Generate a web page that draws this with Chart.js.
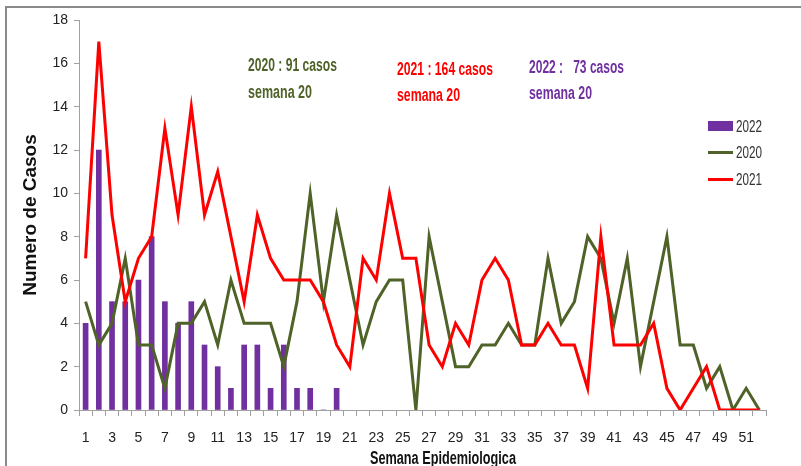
<!DOCTYPE html>
<html>
<head>
<meta charset="utf-8">
<script src="https://cdn.jsdelivr.net/npm/chart.js@4/dist/chart.umd.min.js"></script>
<style>
  html, body { margin: 0; padding: 0; background: #fff; }
  #wrap { position: relative; width: 801px; height: 466px; overflow: hidden; }
  #frame { position: absolute; left: 5px; top: 6px; width: 800px; height: 470px;
           border-top: 2px solid #8a8a8a; border-left: 2px solid #8a8a8a; box-sizing: border-box; }
  canvas { position: absolute; left: 0; top: 0; }
  .t { position: absolute; font-family: 'Liberation Sans', Arial, sans-serif; white-space: pre;
       line-height: 20px; height: 20px; transform-origin: 0 50%; }
  .ann { font-weight: bold; font-size: 16px; }
  .leg { font-size: 13px; color: #333; }
  .sw { position: absolute; }
</style>
</head>
<body>
<div id="wrap">
  <canvas id="c" width="801" height="466"></canvas>
  <div id="frame"></div>
  <span class="t ann" data-w="89" data-sy="1.13" style="left:248px;top:55px;color:#4f6228;">2020 : 91 casos</span>
  <span class="t ann" data-w="64" data-sy="1.13" style="left:248px;top:82px;color:#4f6228;">semana 20</span>
  <span class="t ann" data-w="96" data-sy="1.13" style="left:397px;top:59px;color:#ff0000;">2021 : 164 casos</span>
  <span class="t ann" data-w="63" data-sy="1.13" style="left:397px;top:85px;color:#ff0000;">semana 20</span>
  <span class="t ann" data-w="95" data-sy="1.13" style="left:529px;top:57px;color:#7030a0;">2022 :   73 casos</span>
  <span class="t ann" data-w="63" data-sy="1.13" style="left:529px;top:83px;color:#7030a0;">semana 20</span>

  <div class="sw" style="left:708px;top:121px;width:25px;height:10px;background:#7030a0;"></div>
  <span class="t leg" data-w="26" data-sy="1.3" style="left:736px;top:117px;">2022</span>
  <div class="sw" style="left:708px;top:151px;width:25px;height:3px;background:#4f6228;"></div>
  <span class="t leg" data-w="26" data-sy="1.3" style="left:736px;top:143px;">2020</span>
  <div class="sw" style="left:708px;top:178px;width:25px;height:3px;background:#ff0000;"></div>
  <span class="t leg" data-w="26" data-sy="1.3" style="left:736px;top:170px;">2021</span>

  <span class="t" data-w="146" data-sy="1.2" style="left:370px;top:448px;font-size:15px;font-weight:bold;color:#111;">Semana Epidemiologica</span>
</div>
<script>
const weeks = [];
for (let w = 1; w <= 52; w++) weeks.push(String(w));

const cases2022 = [4,12,5,5,6,8,5,4,5,3,2,1,3,3,1,3,1,1,0,1];

const cases2020 = [5,3,4,7,3,3,1,4,4,5,3,6,4,4,4,2,5,10,5,9,
                   6,3,5,6,6,0,8,5,2,2,3,3,4,3,3,7,4,5,8,7,
                   4,7,2,5,8,3,3,1,2,0,1,0];

const cases2021 = [7,17,9,5,7,8,13,9,14,9,11,8,5,9,7,6,6,6,5,3,
                   2,7,6,10,7,7,3,2,4,3,6,7,6,3,3,4,3,3,1,8,
                   3,3,3,4,1,0,1,2,0,0,0,0];

const yTicks = [0,2,4,6,8,10,12,14,16,18];

// fit overlay texts to the widths seen in the reference
document.querySelectorAll('.t[data-w]').forEach(function (el) {
  const w = el.getBoundingClientRect().width;
  const sx = parseFloat(el.dataset.w) / w;
  el.style.transform = 'scale(' + sx + ',' + el.dataset.sy + ')';
});

const tickFont = { family: "'Liberation Sans', Arial, sans-serif", size: 14 };

new Chart(document.getElementById('c'), {
  data: {
    labels: weeks,
    datasets: [
      { type: 'bar', label: '2022', data: cases2022, backgroundColor: '#7030a0',
        barThickness: 5, order: 3 },
      { type: 'line', label: '2020', data: cases2020, borderColor: '#4f6228', borderWidth: 3,
        pointRadius: 0, tension: 0, fill: false, order: 2 },
      { type: 'line', label: '2021', data: cases2021, borderColor: '#ff0000', borderWidth: 3,
        pointRadius: 0, tension: 0, fill: false, order: 1 }
    ]
  },
  options: {
    responsive: false,
    animation: false,
    layout: { padding: { top: 20, right: 35, left: 0, bottom: 0 } },
    plugins: { legend: { display: false }, tooltip: { enabled: false } },
    scales: {
      x: {
        type: 'category',
        offset: true,
        grid: { display: true, drawOnChartArea: false, offset: true, tickLength: 6, color: '#a0a0a0' },
        border: { display: true, color: '#a0a0a0', width: 1 },
        ticks: {
          autoSkip: false, maxRotation: 0, minRotation: 0, padding: 14,
          color: '#222', font: tickFont,
          callback: function(v, i) { return i % 2 === 0 ? weeks[i] : ''; }
        },
        afterFit: function(s) { s.height = 56; }
      },
      y: {
        min: 0, max: 18,
        afterBuildTicks: function(s) { s.ticks = yTicks.map(v => ({ value: v })); },
        grid: { display: true, drawOnChartArea: false, tickLength: 5, color: '#a0a0a0' },
        border: { display: true, color: '#a0a0a0', width: 1 },
        ticks: { color: '#222', font: tickFont, padding: 6 },
        title: { display: true, text: 'Numero de Casos', color: '#111',
                 font: { family: "'Liberation Sans', Arial, sans-serif", size: 19, weight: 'bold' },
                 padding: { top: 19, bottom: 0 } },
        afterFit: function(s) { s.width = 79; }
      }
    }
  }
});
</script>
</body>
</html>
